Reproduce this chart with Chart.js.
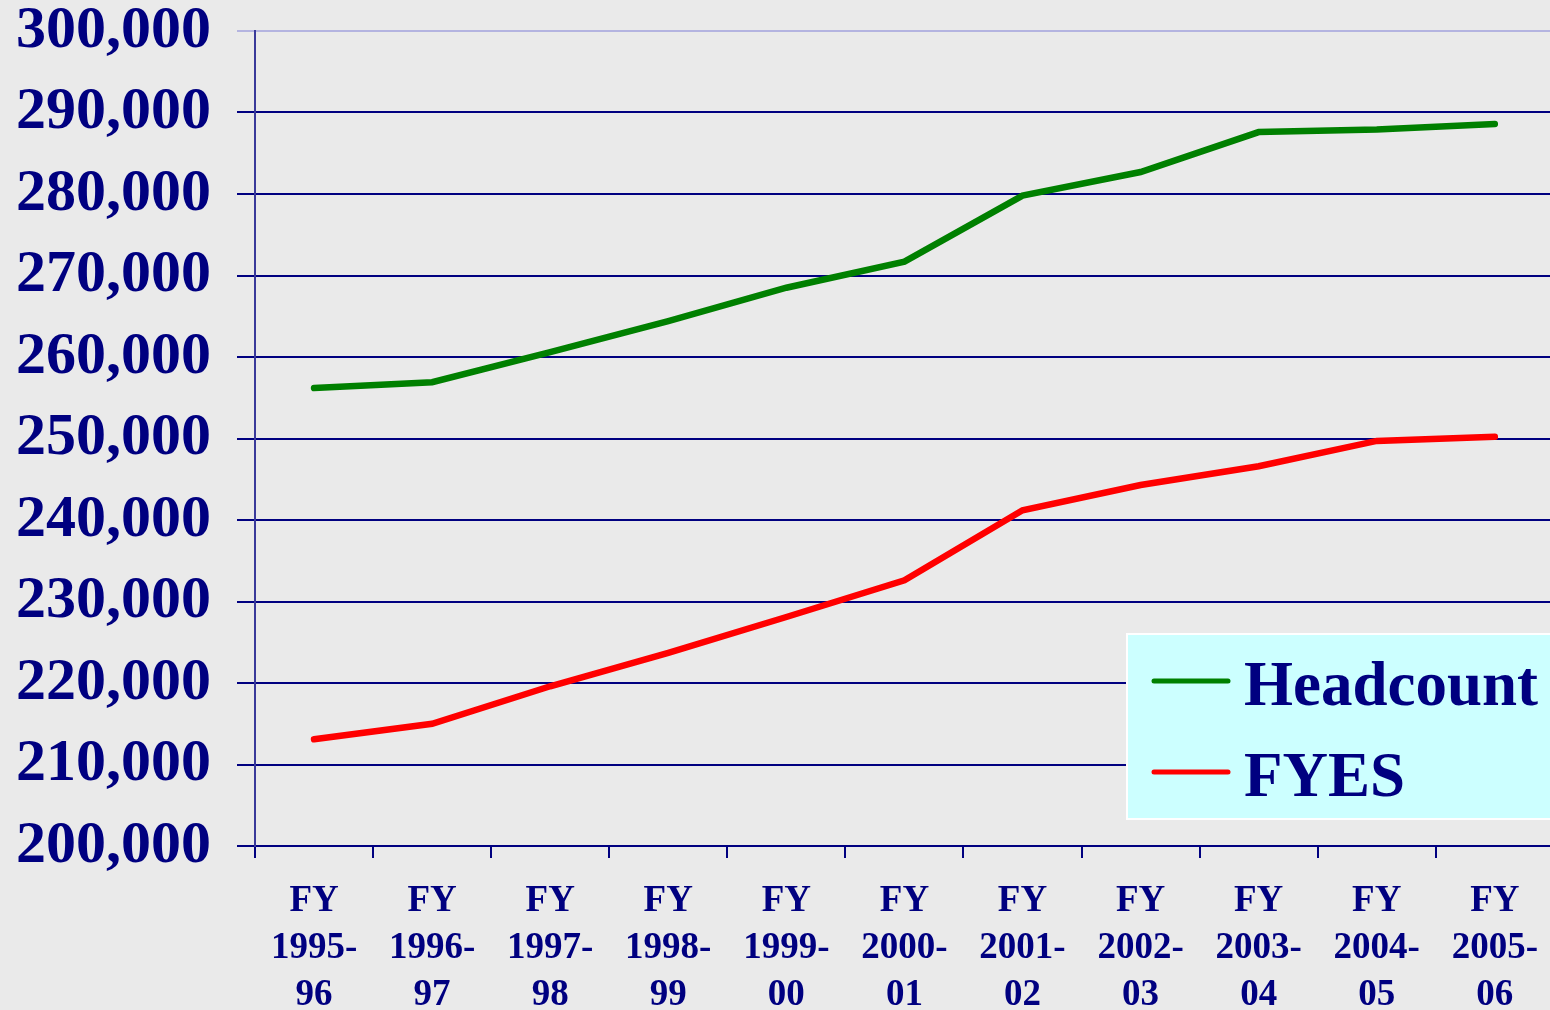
<!DOCTYPE html>
<html>
<head>
<meta charset="utf-8">
<script src="https://cdn.jsdelivr.net/npm/chart.js@4"></script>
<style>
  html, body { margin: 0; padding: 0; background: #eaeaea; overflow: hidden; }
  #wrap { width: 1558px; height: 1010px; }
</style>
</head>
<body>
<div id="wrap"><canvas id="enrollChart" width="1558" height="1010"></canvas></div>
<script>
const years = [
  ["FY", "1995-", "96"], ["FY", "1996-", "97"], ["FY", "1997-", "98"], ["FY", "1998-", "99"],
  ["FY", "1999-", "00"], ["FY", "2000-", "01"], ["FY", "2001-", "02"], ["FY", "2002-", "03"],
  ["FY", "2003-", "04"], ["FY", "2004-", "05"], ["FY", "2005-", "06"]
];
const headcount = [256200, 256900, 260600, 264400, 268500, 271700, 279800, 282700, 287600, 287900, 288600];
const fyes = [213100, 215000, 219600, 223700, 228100, 232600, 241200, 244300, 246600, 249700, 250200];
const yTicks = { min: 200000, max: 300000, step: 10000 };

const navy = '#000080';
const serif = '"Liberation Serif", "Times New Roman", serif';

// legend box drawn inside the plot, bottom right
const boxLegend = {
  id: 'boxLegend',
  afterDraw(chart) {
    const ctx = chart.ctx;
    const x = 1127, y = 634, w = 440, h = 185;
    ctx.save();
    ctx.fillStyle = '#ccffff';
    ctx.fillRect(x, y, w, h);
    ctx.strokeStyle = '#ffffff';
    ctx.lineWidth = 2;
    ctx.strokeRect(x, y, w, h);
    ctx.font = 'bold 63px ' + serif;
    ctx.textBaseline = 'middle';
    chart.data.datasets.forEach((ds, i) => {
      const cy = y + 47 + i * 91;
      ctx.strokeStyle = ds.borderColor;
      ctx.lineWidth = 5;
      ctx.lineCap = 'round';
      ctx.beginPath();
      ctx.moveTo(x + 27, cy);
      ctx.lineTo(x + 101, cy);
      ctx.stroke();
      ctx.fillStyle = navy;
      ctx.fillText(ds.label, x + 117, cy + 8);
    });
    ctx.restore();
  }
};

new Chart(document.getElementById('enrollChart'), {
  type: 'line',
  data: {
    labels: years,
    datasets: [
      { label: 'Headcount', data: headcount, borderColor: '#008000', borderWidth: 6.5, pointRadius: 0, tension: 0, borderCapStyle: 'round' },
      { label: 'FYES', data: fyes, borderColor: '#ff0000', borderWidth: 6.5, pointRadius: 0, tension: 0, borderCapStyle: 'round' }
    ]
  },
  options: {
    responsive: false,
    animation: false,
    layout: { padding: { top: 31, right: 0, left: 0, bottom: 0 } },
    plugins: { legend: { display: false }, tooltip: { enabled: false } },
    scales: {
      x: {
        offset: true,
        afterFit(scale) { scale.height = 164; },
        grid: { offset: true, drawOnChartArea: false, color: navy, lineWidth: 2, tickLength: 12 },
        border: { color: navy, width: 2 },
        ticks: {
          color: navy, padding: 20, maxRotation: 0, autoSkip: false,
          font: { family: serif, size: 37, weight: 'bold', lineHeight: 1.27 }
        }
      },
      y: {
        min: yTicks.min, max: yTicks.max,
        afterFit(scale) { scale.width = 255; },
        grid: {
          color: ctx => ctx.tick && ctx.tick.value === yTicks.max ? '#b4b4e0' : navy,
          lineWidth: 2, tickLength: 18
        },
        border: { color: '#3a3a9a', width: 2 },
        ticks: {
          stepSize: yTicks.step, color: navy, padding: 26,
          font: { family: serif, size: 60, weight: 'bold', lineHeight: 0.1 },
          callback: v => v.toLocaleString('en-US')
        }
      }
    }
  },
  plugins: [boxLegend]
});
</script>
</body>
</html>
